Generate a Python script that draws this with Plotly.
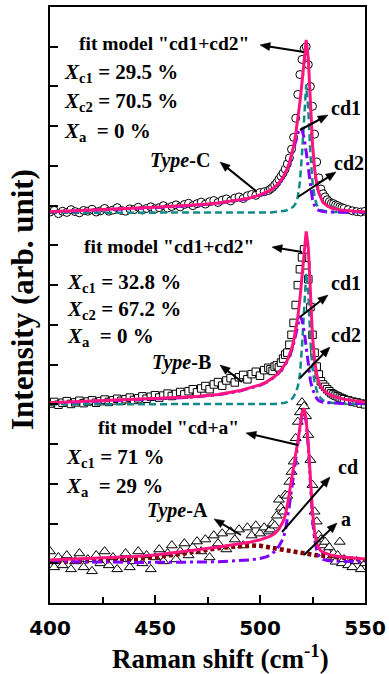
import math
import plotly.graph_objects as go

# ---------------- data ----------------
shift = list(range(400, 505, 2)) + list(range(505, 541)) + list(range(542, 551, 2))

type_c = [9.84, 9.88, 9.80, 9.86, 9.83, 9.90, 9.85, 9.82, 9.88, 9.86,
          9.91, 9.84, 9.87, 9.93, 9.86, 9.89, 9.95, 9.88, 9.86, 9.92,
          9.90, 9.96, 9.89, 9.93, 9.97, 9.92, 9.95, 10.00, 9.94, 9.98,
          10.02, 9.97, 10.03, 10.06, 10.00, 10.05, 10.09, 10.04, 10.10, 10.13,
          10.08, 10.14, 10.17, 10.12, 10.19, 10.22, 10.18, 10.25, 10.28, 10.26,
          10.33, 10.35, 10.38,
          10.42, 10.46, 10.52, 10.58, 10.66, 10.74, 10.82, 10.92, 11.05, 11.20,
          11.42, 11.72, 12.20, 12.80, 13.30, 13.68, 13.95, 14.00, 13.55, 13.00,
          12.50, 11.80, 11.10, 10.70, 10.42, 10.30, 10.22, 10.15, 10.10, 10.06,
          10.05, 10.02, 10.00, 9.97, 9.95, 9.93,
          9.90, 9.87, 9.85, 9.84, 9.86]

type_b = [5.02, 5.06, 4.99, 5.04, 5.08, 5.01, 5.05, 5.09, 5.03, 5.07,
          5.10, 5.04, 5.08, 5.12, 5.06, 5.10, 5.14, 5.09, 5.13, 5.17,
          5.11, 5.15, 5.20, 5.14, 5.19, 5.23, 5.17, 5.22, 5.27, 5.21,
          5.26, 5.31, 5.25, 5.33, 5.38, 5.30, 5.40, 5.46, 5.38, 5.50,
          5.56, 5.47, 5.60, 5.66, 5.55, 5.68, 5.74, 5.63, 5.76, 5.82,
          5.72, 5.86, 5.92,
          5.88, 5.84, 5.95, 5.98, 5.93, 6.05, 6.15, 6.25, 6.30, 6.50,
          6.75, 7.05, 7.50, 8.00, 8.40, 8.70, 8.90, 8.50, 8.15, 7.45,
          6.75, 6.30, 5.95, 5.75, 5.58, 5.50, 5.44, 5.38, 5.33, 5.28,
          5.25, 5.22, 5.20, 5.17, 5.15, 5.13,
          5.10, 5.07, 5.05, 5.02, 5.00]

type_a = [1.30, 0.90, 1.15, 0.95, 1.20, 0.85, 1.05, 1.25, 0.90, 1.10,
          0.80, 1.20, 1.00, 1.30, 0.95, 1.15, 0.85, 1.10, 1.25, 0.90,
          1.05, 1.30, 1.00, 1.20, 0.85, 1.15, 1.35, 1.05, 1.25, 1.45,
          1.10, 1.30, 1.50, 1.20, 1.40, 1.55, 1.30, 1.60, 1.15, 1.70,
          1.50, 1.75, 1.35, 1.80, 1.60, 1.85, 1.45, 1.90, 1.70, 1.95,
          1.75, 1.90, 1.80,
          1.85, 2.00, 1.95, 2.20, 2.60, 2.40, 2.30, 2.72, 2.70, 3.05,
          3.30, 3.56, 4.15, 4.56, 4.80, 5.05, 4.95, 4.70, 4.23, 3.60,
          2.97, 2.30, 2.05, 1.71, 1.60, 1.45, 1.54, 1.30, 1.40, 1.15,
          1.25, 1.04, 1.20, 1.54, 1.00, 1.10,
          0.95, 0.90, 1.05, 0.85, 1.00]

fit_x = [400, 410, 420, 430, 440, 450, 460, 470, 480, 490,
         495, 500, 503, 505, 507, 509,
         511, 512, 513, 514, 515, 516, 517, 518, 519, 520,
         521, 522, 523, 524, 525, 526, 527, 528, 529, 530,
         532, 534, 537, 540, 545, 550]

c_sum = [9.85, 9.87, 9.89, 9.91, 9.93, 9.96, 9.99, 10.02, 10.07, 10.14,
         10.19, 10.27, 10.33, 10.39, 10.47, 10.57,
         10.72, 10.82, 10.94, 11.08, 11.26, 11.50, 11.80, 12.15, 12.60, 13.10,
         13.65, 14.17, 13.70, 12.55, 11.55, 10.92, 10.55, 10.32, 10.18, 10.08,
         9.99, 9.94, 9.90, 9.88, 9.86, 9.85]
c_cd1 = [9.84, 9.86, 9.88, 9.90, 9.92, 9.95, 9.98, 10.01, 10.06, 10.13,
         10.18, 10.26, 10.32, 10.38, 10.46, 10.56,
         10.70, 10.80, 10.92, 11.05, 11.22, 11.42, 11.62, 11.82, 11.95, 11.92,
         11.70, 11.35, 10.90, 10.45, 10.15, 10.00, 9.92, 9.88, 9.86, 9.85,
         9.84, 9.84, 9.83, 9.83, 9.83, 9.83]
c_cd2 = [9.82, 9.82, 9.82, 9.82, 9.82, 9.82, 9.82, 9.82, 9.82, 9.82,
         9.82, 9.82, 9.83, 9.83, 9.84, 9.85,
         9.86, 9.87, 9.89, 9.91, 9.94, 9.98, 10.06, 10.22, 10.60, 11.30,
         12.30, 13.05, 12.40, 11.30, 10.60, 10.22, 10.02, 9.93, 9.89, 9.87,
         9.85, 9.84, 9.84, 9.83, 9.83, 9.83]

b_sum = [5.04, 5.06, 5.08, 5.10, 5.12, 5.14, 5.17, 5.20, 5.25, 5.34,
         5.41, 5.49, 5.56, 5.62, 5.70, 5.80,
         5.93, 6.01, 6.11, 6.23, 6.39, 6.59, 6.86, 7.20, 7.65, 8.20,
         8.80, 9.35, 8.95, 7.75, 6.72, 6.10, 5.76, 5.56, 5.44, 5.37,
         5.28, 5.22, 5.17, 5.13, 5.09, 5.05]
b_cd1 = [5.03, 5.05, 5.07, 5.09, 5.11, 5.13, 5.16, 5.19, 5.24, 5.33,
         5.40, 5.48, 5.55, 5.61, 5.69, 5.79,
         5.91, 5.99, 6.09, 6.20, 6.34, 6.52, 6.74, 7.00, 7.22, 7.12,
         6.85, 6.45, 5.95, 5.60, 5.38, 5.24, 5.15, 5.09, 5.06, 5.05,
         5.04, 5.03, 5.03, 5.02, 5.02, 5.02]
b_cd2 = [5.00, 5.00, 5.00, 5.00, 5.00, 5.00, 5.00, 5.00, 5.00, 5.00,
         5.00, 5.00, 5.00, 5.01, 5.01, 5.02,
         5.03, 5.04, 5.06, 5.09, 5.13, 5.19, 5.29, 5.45, 5.75, 6.45,
         7.45, 8.30, 7.80, 6.60, 5.90, 5.55, 5.35, 5.22, 5.15, 5.10,
         5.06, 5.04, 5.03, 5.02, 5.01, 5.01]

a_sum = [1.08, 1.10, 1.12, 1.14, 1.17, 1.21, 1.27, 1.34, 1.41, 1.48,
         1.53, 1.59, 1.64, 1.68, 1.75, 1.86,
         2.05, 2.20, 2.45, 2.80, 3.12, 3.45, 3.75, 4.05, 4.45, 4.80,
         4.90, 4.60, 4.00, 3.10, 2.30, 1.78, 1.50, 1.38, 1.31, 1.28,
         1.23, 1.20, 1.17, 1.15, 1.13, 1.11]
a_cd = [1.04, 1.04, 1.03, 1.03, 1.02, 1.02, 1.02, 1.03, 1.04, 1.06,
        1.08, 1.12, 1.16, 1.21, 1.30, 1.43,
        1.62, 1.80, 2.08, 2.45, 2.85, 3.25, 3.62, 3.98, 4.38, 4.75,
        4.86, 4.55, 3.92, 2.98, 2.12, 1.60, 1.33, 1.20, 1.13, 1.10,
        1.07, 1.06, 1.05, 1.05, 1.04, 1.04]
a_am = [1.03, 1.04, 1.05, 1.07, 1.10, 1.15, 1.22, 1.30, 1.38, 1.43,
        1.45, 1.44, 1.42, 1.40, 1.38, 1.36,
        1.34, 1.33, 1.32, 1.31, 1.30, 1.29, 1.28, 1.27, 1.26, 1.25,
        1.24, 1.23, 1.22, 1.22, 1.21, 1.21, 1.20, 1.20, 1.19, 1.19,
        1.18, 1.17, 1.16, 1.14, 1.11, 1.08]

x_ticks = [400, 450, 500, 550]
x_minor = [425, 475, 525]
y_ticks = list(range(1, 15))

# ---------------- styles ----------------
PINK = '#FF1480'
PURPLE = '#7F00FF'
TEAL = '#138A8A'
DRED = '#800000'
SERIF = 'Liberation Serif'

fig = go.Figure()

for ys, sym, sz in [(type_c, 'circle', 8), (type_b, 'square', 7.5), (type_a, 'triangle-up', 9.5)]:
    fig.add_trace(go.Scatter(x=shift, y=ys, mode='markers', hoverinfo='skip',
                             marker=dict(symbol=sym, size=sz, color='white',
                                         line=dict(color='black', width=1))))

def line(y, color, width, dash='solid'):
    fig.add_trace(go.Scatter(x=fit_x, y=y, mode='lines', hoverinfo='skip',
                             line=dict(color=color, width=width, dash=dash)))

for cd2, cd1, tot in [(c_cd2, c_cd1, c_sum), (b_cd2, b_cd1, b_sum)]:
    line(cd2, TEAL, 2.5, '7px,4px')
    line(cd1, PURPLE, 3, '10px,4px,3px,4px')
    line(tot, PINK, 3)
line(a_am, DRED, 4.5, '4px,3px')
line(a_cd, PURPLE, 3, '10px,4px,3px,4px')
line(a_sum, PINK, 3)

# ---------------- layout helpers (pixel -> paper) ----------------
L, R, T, B = 50, 365, 7, 603
def px(x):
    return (x - L) / (R - L)
def py(y):
    return (B - y) / (B - T)

ann = []
shapes = []
def label(x, y, text, size=20):
    ann.append(dict(x=px(x), y=py(y), xref='paper', yref='paper', text=text,
                    showarrow=False, xanchor='left', yanchor='middle',
                    font=dict(family=SERIF, size=size, color='black')))

def arrow(hx, hy, tx, ty, hl=10, hw=4):
    dx, dy = hx - tx, hy - ty
    d = math.hypot(dx, dy)
    ux, uy = dx / d, dy / d
    bx, by = hx - ux * hl, hy - uy * hl
    nx, ny = -uy, ux
    shapes.append(dict(type='line', xref='paper', yref='paper',
                       x0=px(tx), y0=py(ty), x1=px(bx + ux), y1=py(by + uy),
                       line=dict(color='black', width=2)))
    path = 'M {:.5f},{:.5f} L {:.5f},{:.5f} L {:.5f},{:.5f} Z'.format(
        px(hx), py(hy), px(bx + nx * hw), py(by + ny * hw), px(bx - nx * hw), py(by - ny * hw))
    shapes.append(dict(type='path', xref='paper', yref='paper', path=path,
                       fillcolor='black', line=dict(color='black', width=0.5)))

# panel C
label(77, 43, '<b>fit model "cd1+cd2"</b>', 19.5)
label(62, 73, '<b><i>X</i><sub>c1</sub> = 29.5 %</b>', 21)
label(62, 102, '<b><i>X</i><sub>c2</sub> = 70.5 %</b>', 21)
label(62, 132, '<b><i>X</i><sub>a</sub>  = 0 %</b>', 21)
label(148, 160, '<b><i>Type</i>-C</b>')
label(329, 108, '<b>cd1</b>')
label(332, 163, '<b>cd2</b>')
arrow(260, 45, 304, 52)
arrow(220, 162, 256, 191)
arrow(328, 115, 300, 130)
arrow(336, 172, 298, 197)

# panel B
label(82, 247, '<b>fit model "cd1+cd2"</b>', 19.5)
label(65, 283, '<b><i>X</i><sub>c1</sub> = 32.8 %</b>', 21)
label(65, 310, '<b><i>X</i><sub>c2</sub> = 67.2 %</b>', 21)
label(65, 337, '<b><i>X</i><sub>a</sub>  = 0 %</b>', 21)
label(150, 362, '<b><i>Type</i>-B</b>')
label(329, 283, '<b>cd1</b>')
label(329, 335, '<b>cd2</b>')
arrow(272, 247, 302, 252)
arrow(220, 365, 242, 382)
arrow(328, 295, 300, 317)
arrow(330, 347, 300, 378)

# panel A
label(96, 427, '<b>fit model "cd+a"</b>', 19.5)
label(64, 458, '<b><i>X</i><sub>c1</sub> = 71 %</b>', 21)
label(64, 487, '<b><i>X</i><sub>a</sub>  = 29 %</b>', 21)
label(145, 510, '<b><i>Type</i>-A</b>')
label(336, 467, '<b>cd</b>')
label(339, 519, '<b>a</b>')
arrow(246, 433, 298, 445)
arrow(214, 519, 241, 535)
arrow(330, 477, 282, 532)
arrow(337, 523, 304, 555)

# axis titles
ann.append(dict(x=px(220), y=py(657), xref='paper', yref='paper',
                text='<b>Raman shift (cm<sup>-1</sup>)</b>', showarrow=False,
                xanchor='center', yanchor='middle',
                font=dict(family=SERIF, size=27, color='black')))
ann.append(dict(x=px(22), y=py(300), xref='paper', yref='paper',
                text='<b>Intensity (arb. unit)</b>', showarrow=False, textangle=-90,
                xanchor='center', yanchor='middle',
                font=dict(family=SERIF, size=31, color='black')))

fig.update_layout(
    width=389, height=674,
    margin=dict(l=L, r=389 - R, t=T, b=674 - B),
    paper_bgcolor='white', plot_bgcolor='white',
    showlegend=False,
    hovermode=False,
    annotations=ann,
    shapes=shapes,
    xaxis=dict(range=[400, 550], tickvals=x_ticks, ticks='inside', ticklen=8, tickwidth=2,
               tickcolor='black', showline=True, linecolor='black', linewidth=2, mirror=True,
               showgrid=False, zeroline=False, automargin=False,
               minor=dict(tickvals=x_minor, ticks='inside', ticklen=6, tickwidth=2, tickcolor='black'),
               tickfont=dict(family='DejaVu Sans', size=20, color='black', weight='bold'),
               ticklabelstandoff=6),
    yaxis=dict(range=[0, 15], tickvals=y_ticks, ticks='inside', ticklen=8, tickwidth=2,
               tickcolor='black', showticklabels=False, showline=True, linecolor='black',
               linewidth=2, mirror=True, showgrid=False, zeroline=False, automargin=False),
)

fig.write_html('out.html', config={'displayModeBar': False},
               post_script="document.body.style.margin='0';document.body.style.overflow='hidden';")
